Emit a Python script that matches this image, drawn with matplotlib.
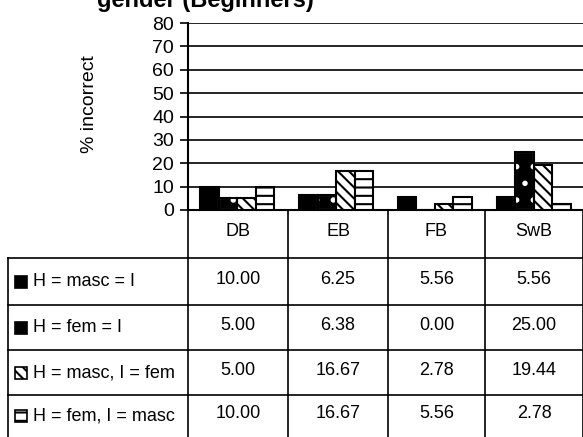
import numpy as np
import matplotlib
matplotlib.use("Agg")
from matplotlib import pyplot as plt
from matplotlib.patches import Rectangle

plt.rcParams['font.family'] = ['Liberation Sans', 'DejaVu Sans']
plt.rcParams['hatch.linewidth'] = 1.5

categories = ["DB", "EB", "FB", "SwB"]
series_names = ["H = masc = I", "H = fem = I", "H = masc, I = fem", "H = fem, I = masc"]
masc_masc = [10.00, 6.25, 5.56, 5.56]
fem_fem = [5.00, 6.38, 0.00, 25.00]
masc_fem = [5.00, 16.67, 2.78, 19.44]
fem_masc = [10.00, 16.67, 5.56, 2.78]
values = [masc_masc, fem_fem, masc_fem, fem_masc]
yticks = [0, 10, 20, 30, 40, 50, 60, 70, 80]

W, H = 583, 437
fig = plt.figure(figsize=(W / 100, H / 100), dpi=100)

def fx(px):
    return px / W

def fy(py):
    return 1 - py / H

ax = fig.add_axes([fx(188), fy(210), fx(583) - fx(188), fy(23) - fy(210)])

styles = [
    dict(facecolor="black", edgecolor="black", hatch=None),
    dict(facecolor="black", edgecolor="white", hatch="."),
    dict(facecolor="white", edgecolor="black", hatch="\\\\\\"),
    dict(facecolor="white", edgecolor="black", hatch="--"),
]

x = np.arange(len(categories))
bw = 0.1875
for i, vals in enumerate(values):
    st = styles[i]
    ax.bar(x + (i - 1.5) * bw, vals, bw, facecolor=st["facecolor"],
           edgecolor=st["edgecolor"], hatch=st["hatch"], linewidth=1.5, zorder=3)
    if i == 1:
        # black outline over the dotted bars
        ax.bar(x + (i - 1.5) * bw, vals, bw, facecolor="none", edgecolor="black",
               linewidth=1.5, zorder=4)

ax.set_xlim(-0.5, len(categories) - 0.5)
ax.set_ylim(0, 80)
ax.set_yticks(yticks)
ax.set_yticklabels([str(t) for t in yticks], fontsize=14)
ax.set_xticks([])
ax.yaxis.grid(True, color="black", linewidth=1.2)
ax.set_axisbelow(True)
for s in ["top", "right"]:
    ax.spines[s].set_visible(False)
ax.spines["left"].set_linewidth(1.5)
ax.spines["bottom"].set_linewidth(1.5)
ax.tick_params(axis="y", length=6, width=1.2, pad=4)
fig.text(fx(90), fy(104), "% incorrect", fontsize=14, rotation=90,
         ha="center", va="center")

fig.text(fx(205), fy(7), "gender (Beginners)", fontsize=17, fontweight="bold",
         ha="center", va="baseline")

# data table under the chart
col_edges = [188, 288, 388, 485, 583]
row_edges = [258, 305, 350, 395, 437]
lw = 1.2
for cx in col_edges:
    fig.add_artist(plt.Line2D([fx(cx), fx(cx)], [fy(210), fy(437)], color="black", lw=lw))
fig.add_artist(plt.Line2D([fx(8), fx(8)], [fy(258), fy(437)], color="black", lw=lw))
for ry in row_edges[:-1]:
    fig.add_artist(plt.Line2D([fx(8), fx(583)], [fy(ry), fy(ry)], color="black", lw=lw))

for j, cat in enumerate(categories):
    cx = (col_edges[j] + col_edges[j + 1]) / 2
    fig.text(fx(cx), fy(232), cat, fontsize=13, ha="center", va="center")

for i, name in enumerate(series_names):
    cy = (row_edges[i] + row_edges[i + 1]) / 2
    st = styles[i]
    fig.add_artist(Rectangle((fx(15), fy(cy + 6)), fx(12), fy(0) - fy(12),
                             facecolor=st["facecolor"], edgecolor="black",
                             hatch=st["hatch"], linewidth=1.2))
    fig.text(fx(33), fy(cy), name, fontsize=13, ha="left", va="center")
    for j in range(len(categories)):
        cx = (col_edges[j] + col_edges[j + 1]) / 2
        fig.text(fx(cx), fy(cy - 2), f"{values[i][j]:.2f}", fontsize=13,
                 ha="center", va="center")

fig.savefig("out.png", dpi=100)
